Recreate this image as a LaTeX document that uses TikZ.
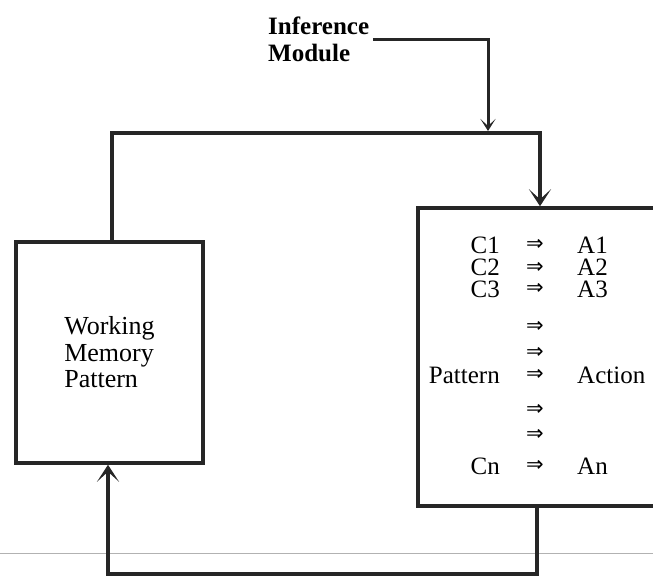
\documentclass[tikz,border=0pt]{standalone}
\usepackage{fontspec}
\setmainfont{Liberation Serif}
\newfontfamily\symfam{DejaVu Sans}
\usetikzlibrary{arrows.meta}
\begin{document}
\begin{tikzpicture}[x=1pt,y=-1pt,
  conn/.style={draw=black!85, line width=3.5pt},
  boxst/.style={draw=black!85, line width=3.5pt, inner sep=0pt},
  tip/.style={-{Stealth[length=12pt,width=15pt,inset=7pt]}},
  bigtip/.style={-{Stealth[length=17pt,width=22pt,inset=10pt]}},
  lbl/.style={font=\fontsize{25}{27}\selectfont, inner sep=0pt,
              text height=17pt, text depth=0pt},
  imp/.style={font=\symfam\fontsize{21}{21}\selectfont, inner sep=0pt}]
\useasboundingbox (0,0) rectangle (653,576);
\clip (0,0) rectangle (653,576);
% scan edge line
\draw[gray!60, line width=1pt] (0,553) -- (653,553);
% boxes
\node[boxst, minimum width=187pt, minimum height=221pt, align=left,
      font=\fontsize{26}{26.5}\selectfont] (wm) at (109.5,352.5)
      {Working\\Memory\\Pattern};
\node[boxst, minimum width=282pt, minimum height=298pt] (rb) at (559,357) {};
% inference module label
\node[font=\fontsize{25}{27}\selectfont\bfseries, align=left, anchor=west,
      inner sep=0pt, inner xsep=3.5pt] (inf) at (264.5,39) {Inference\\Module};
% coordinates
\coordinate (j1) at (488,131);
\coordinate (top) at (0,133);
\coordinate (bot) at (0,574);
\coordinate (wmout) at ([xshift=2.5pt]wm.north);
\coordinate (wmin) at ([xshift=-1.5pt]wm.south);
\coordinate (rbin) at ([xshift=-19pt]rb.north);
\coordinate (rbout) at ([xshift=-22pt]rb.south);
% connectors
\draw[conn, line width=3pt, tip] (inf.east) -| (j1);
\draw[conn, bigtip] (wmout) |- (top -| rbin) -- (rbin);
\draw[conn, bigtip] (rbout) |- (bot -| wmin) -- (wmin);
% rules
\node[lbl, anchor=base east] (c1) at (500,253) {C1};
\node[imp] (i1) at (535,245) {⇒};
\node[lbl, anchor=base west] (a1) at (577,253) {A1};
\node[lbl, anchor=base east] (c2) at (500,275) {C2};
\node[imp] (i2) at (535,268) {⇒};
\node[lbl, anchor=base west] (a2) at (577,275) {A2};
\node[lbl, anchor=base east] (c3) at (500,297) {C3};
\node[imp] (i3) at (535,289) {⇒};
\node[lbl, anchor=base west] (a3) at (577,297) {A3};
\node[imp] (i4) at (535,327) {⇒};
\node[imp] (i5) at (535,353) {⇒};
\node[lbl, anchor=base east] (cp) at (500,383) {Pattern};
\node[imp] (i6) at (535,375) {⇒};
\node[lbl, anchor=base west] (ap) at (577,383) {Action};
\node[imp] (i7) at (535,410) {⇒};
\node[imp] (i8) at (535,435) {⇒};
\node[lbl, anchor=base east] (cn) at (500,474) {Cn};
\node[imp] (i9) at (535,466) {⇒};
\node[lbl, anchor=base west] (an) at (577,474) {An};
\end{tikzpicture}
\end{document}
